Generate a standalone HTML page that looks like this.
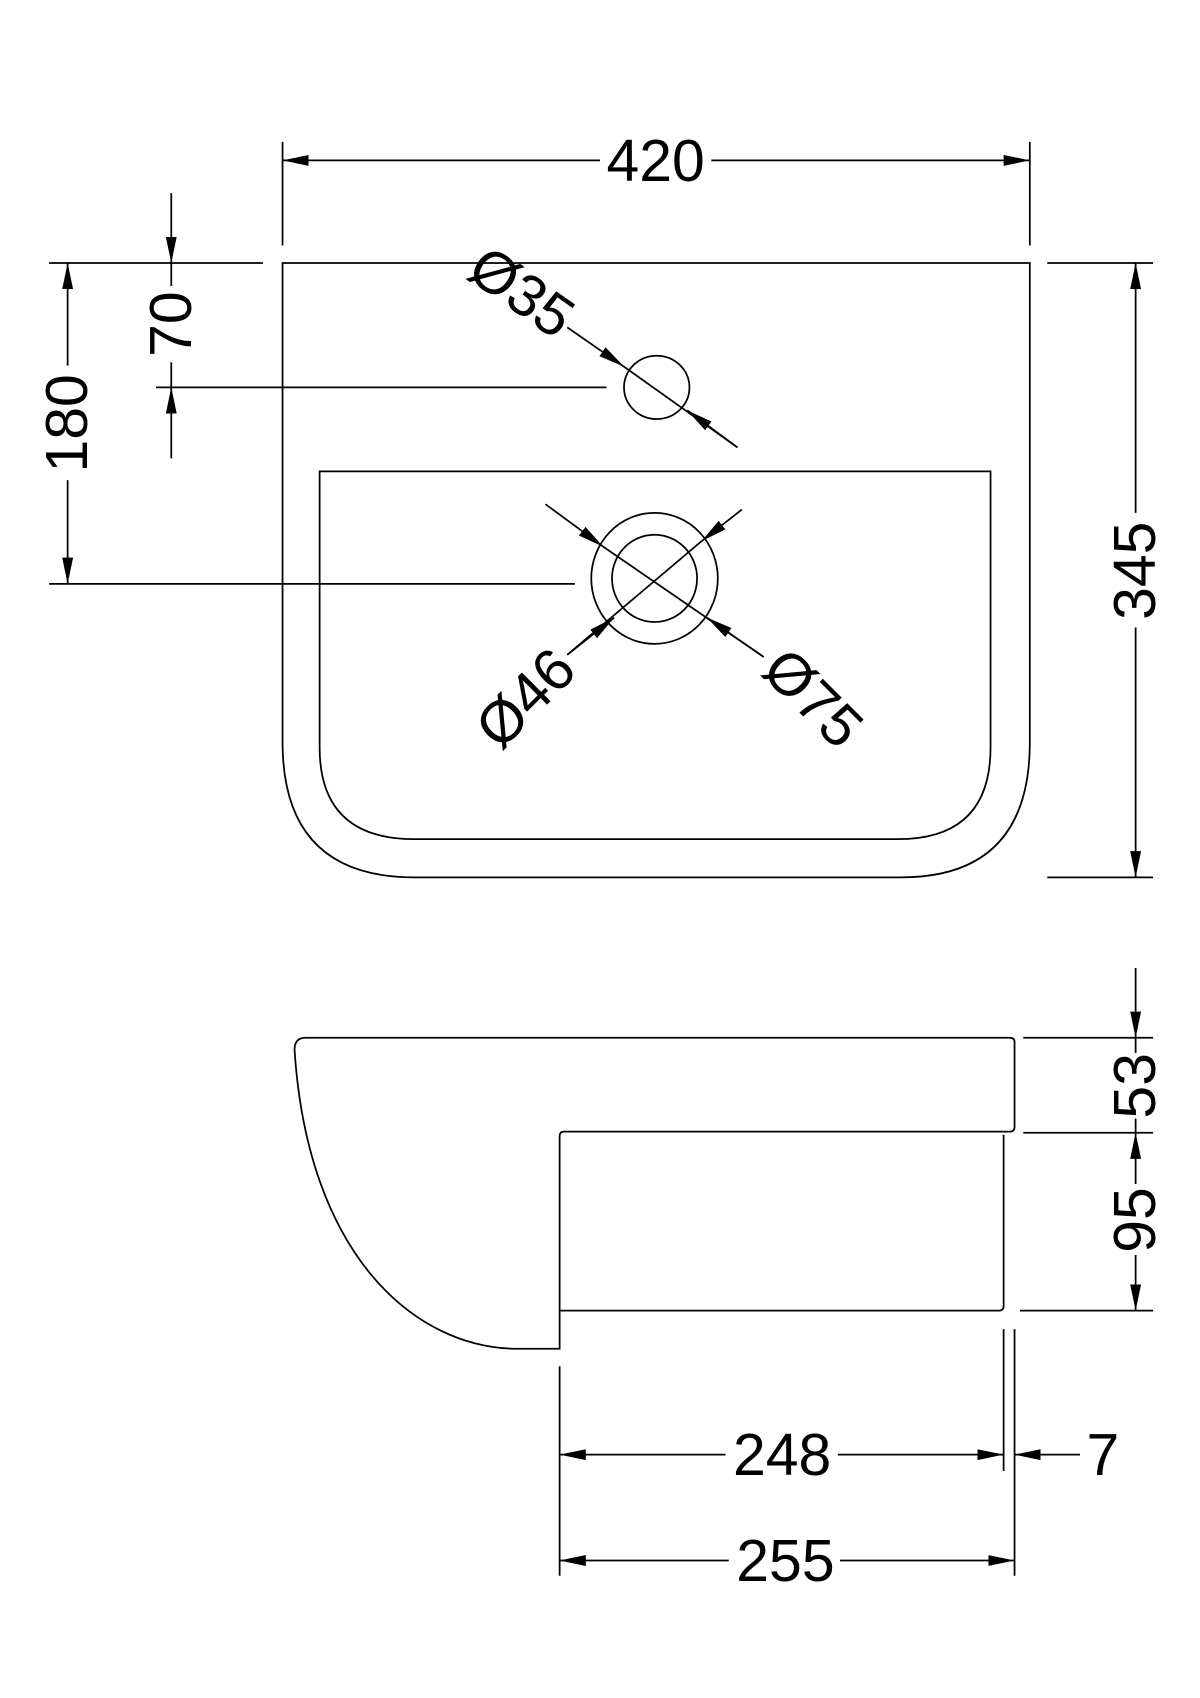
<!DOCTYPE html>
<html><head><meta charset="utf-8"><style>html,body{margin:0;padding:0;background:#fff}svg{display:block}</style></head>
<body>
<svg width="1200" height="1698" viewBox="0 0 1100 1556" preserveAspectRatio="none" xmlns="http://www.w3.org/2000/svg">
<defs>
<marker id="a" viewBox="0 0 24 10" refX="24" refY="5" markerWidth="24" markerHeight="10" markerUnits="userSpaceOnUse" orient="auto-start-reverse"><path d="M0,0 L24,5 L0,10 z" fill="#000"/></marker>
</defs>
<g fill="none" stroke="#000" stroke-width="1.6">
<!-- top view -->
<path d="M259,241 H944 V680 Q944,804 826,804 H380 Q259,804 259,680 Z"/>
<path d="M293,432 H908 V685 Q908,769 823,769 H380 Q293,769 293,685 Z"/>
<ellipse cx="602" cy="355" rx="30" ry="29"/>
<ellipse cx="600" cy="530" rx="58" ry="60"/>
<ellipse cx="600" cy="530" rx="39" ry="40"/>
<!-- leaders -->
<line x1="520" y1="300" x2="572" y2="336" marker-end="url(#a)"/>
<line x1="572" y1="336" x2="676" y2="410"/>
<line x1="676" y1="410" x2="630" y2="376" marker-end="url(#a)"/>
<line x1="500" y1="462" x2="553" y2="501" marker-end="url(#a)"/>
<line x1="553" y1="501" x2="700" y2="602"/>
<line x1="700" y1="602" x2="648" y2="566" marker-end="url(#a)"/>
<line x1="680" y1="467" x2="643" y2="496" marker-end="url(#a)"/>
<line x1="643" y1="496" x2="520" y2="600"/>
<line x1="520" y1="600" x2="563" y2="566" marker-end="url(#a)"/>
<!-- 420 -->
<line x1="259" y1="130" x2="259" y2="225"/><line x1="944" y1="130" x2="944" y2="225"/>
<line x1="550" y1="147" x2="259" y2="147" marker-end="url(#a)"/>
<line x1="652" y1="147" x2="944" y2="147" marker-end="url(#a)"/>
<!-- left dims -->
<line x1="45" y1="241" x2="241" y2="241"/>
<line x1="143" y1="355" x2="556" y2="355"/>
<line x1="45" y1="535" x2="527" y2="535"/>
<line x1="157" y1="177" x2="157" y2="241" marker-end="url(#a)"/>
<line x1="157" y1="241" x2="157" y2="262"/>
<line x1="157" y1="332" x2="157" y2="355"/>
<line x1="157" y1="420" x2="157" y2="355" marker-end="url(#a)"/>
<line x1="62" y1="335" x2="62" y2="241" marker-end="url(#a)"/>
<line x1="62" y1="440" x2="62" y2="535" marker-end="url(#a)"/>
<!-- 345 -->
<line x1="960" y1="241" x2="1057" y2="241"/><line x1="960" y1="804" x2="1057" y2="804"/>
<line x1="1041" y1="470" x2="1041" y2="241" marker-end="url(#a)"/>
<line x1="1041" y1="575" x2="1041" y2="804" marker-end="url(#a)"/>
<!-- side view -->
<path d="M280,951 H926 Q930,951 930,955 V1033 Q930,1037 926,1037 H517 Q513,1037 513,1041 V1236 H475 C380,1236 282,1150 270,962 Q270,951 280,951 Z"/>
<path d="M920,1040 V1197 Q920,1201 916,1201 H513"/>
<line x1="938" y1="951" x2="1057" y2="951"/>
<line x1="938" y1="1038" x2="1057" y2="1038"/>
<line x1="935" y1="1201" x2="1057" y2="1201"/>
<line x1="1041" y1="887" x2="1041" y2="951" marker-end="url(#a)"/>
<line x1="1041" y1="951" x2="1041" y2="965"/>
<line x1="1041" y1="1025" x2="1041" y2="1038"/>
<line x1="1041" y1="1085" x2="1041" y2="1038" marker-end="url(#a)"/>
<line x1="1041" y1="1150" x2="1041" y2="1201" marker-end="url(#a)"/>
<line x1="513" y1="1252" x2="513" y2="1444"/>
<line x1="920" y1="1218" x2="920" y2="1348"/>
<line x1="930" y1="1218" x2="930" y2="1444"/>
<line x1="665" y1="1333" x2="513" y2="1333" marker-end="url(#a)"/>
<line x1="768" y1="1333" x2="920" y2="1333" marker-end="url(#a)"/>
<line x1="990" y1="1333" x2="930" y2="1333" marker-end="url(#a)"/>
<line x1="668" y1="1430" x2="513" y2="1430" marker-end="url(#a)"/>
<line x1="770" y1="1430" x2="930" y2="1430" marker-end="url(#a)"/>
</g>
<g font-family="'Liberation Sans Narrow','Liberation Sans',sans-serif" font-size="54" text-anchor="middle" dominant-baseline="central" fill="#000">
<text x="601" y="148">420</text>
<text transform="translate(157,297) rotate(-90)">70</text>
<text transform="translate(62,388) rotate(-90)">180</text>
<text transform="translate(1041,523) rotate(-90)">345</text>
<text transform="translate(478,268) rotate(35)">Ø35</text>
<text transform="translate(482,640) rotate(-45)">Ø46</text>
<text transform="translate(745,640) rotate(45)">Ø75</text>
<text transform="translate(1041,995) rotate(-90)">53</text>
<text transform="translate(1041,1118) rotate(-90)">95</text>
<text x="717" y="1334">248</text>
<text x="1011" y="1334">7</text>
<text x="720" y="1431">255</text>
</g>
</svg>
</body></html>
